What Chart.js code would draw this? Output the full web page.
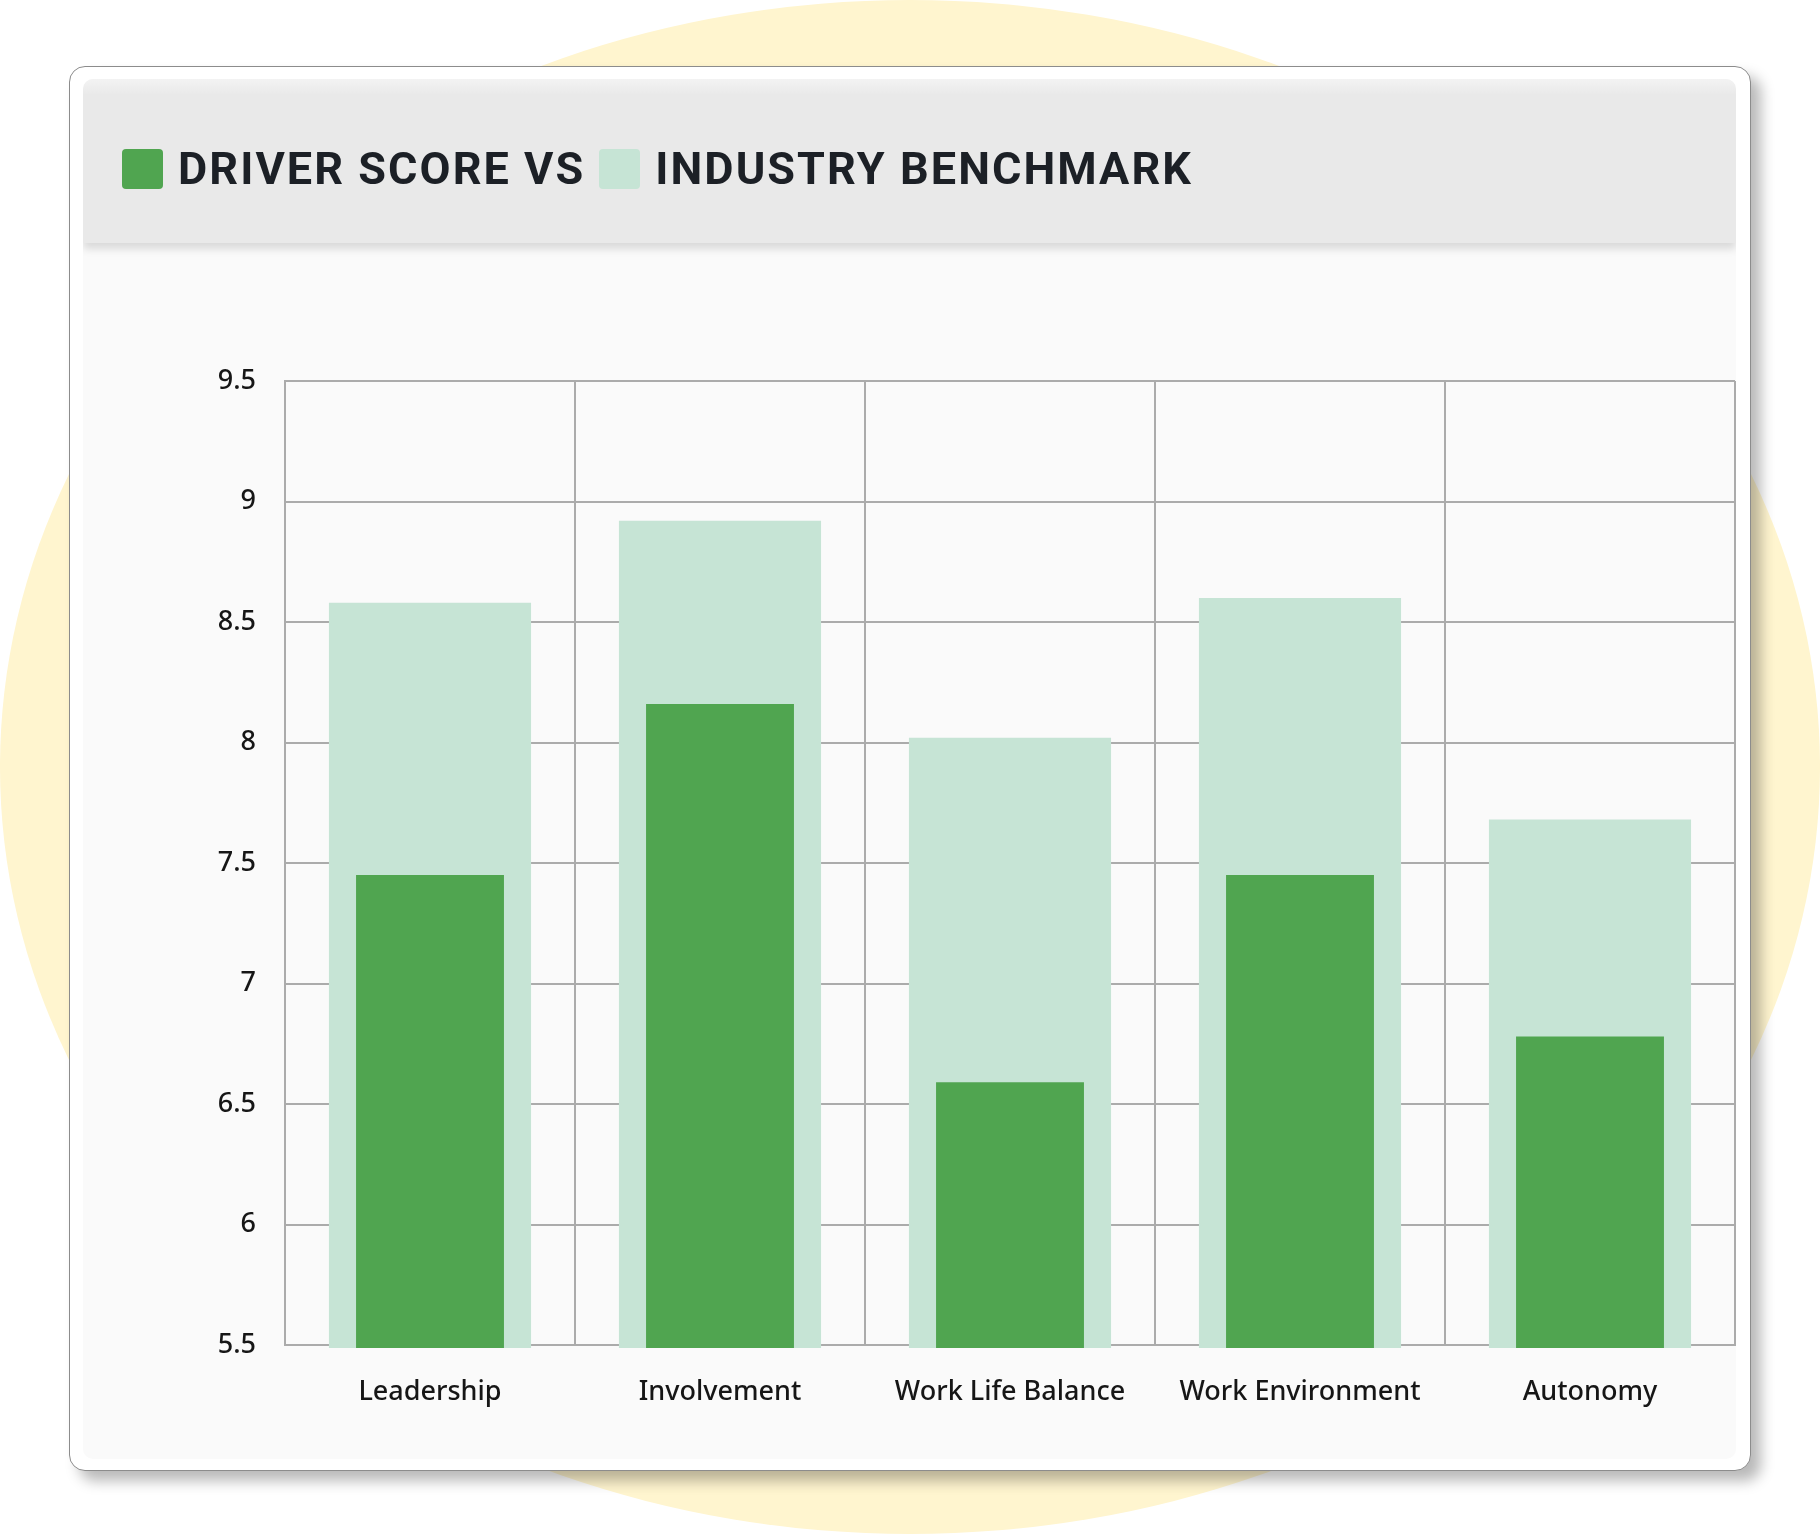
<!DOCTYPE html>
<html>
<head>
<meta charset="utf-8">
<script src="https://cdn.jsdelivr.net/npm/chart.js@4.4.0/dist/chart.umd.min.js"></script>
<style>
  html, body { margin: 0; padding: 0; background: #ffffff; }
  body { width: 1820px; height: 1534px; position: relative; overflow: hidden; }
  #blob { position: absolute; left: 0; top: 0; width: 1820px; height: 1534px; border-radius: 50%; background: #fff5cf; }
  #card { position: absolute; left: 69px; top: 66px; width: 1680px; height: 1403px; background: #ffffff;
          border: 1.5px solid #8c8c8c; border-radius: 16px; box-shadow: 10px 10px 14px rgba(0,0,0,0.28); }
  #panel { position: absolute; left: 13px; top: 12px; width: 1653px; height: 1380px; background: #fafafa; border-radius: 10px; overflow: hidden; }
  #header { position: absolute; left: 0; top: 0; width: 100%; height: 164px; background: linear-gradient(#f3f3f3 0px, #e9e9e9 16px, #e9e9e9 100%);
            box-shadow: 0 6px 8px rgba(0,0,0,0.13); z-index: 2; }
  #legend { position: absolute; left: 39px; top: 69px; height: 41px; display: flex; align-items: center;
            font-family: Roboto, "Noto Sans", sans-serif; font-weight: 700; font-size: 45px; letter-spacing: 2.05px; color: #1c2026; white-space: nowrap; }
  #legend .item { display: flex; align-items: center; margin-right: 14px; }
  #legend .box { width: 41px; height: 40px; border-radius: 4px; margin-right: 15px; }
  #chartWrap { position: absolute; left: 0; top: 167px; width: 1653px; height: 1212px; }
</style>
</head>
<body>
<div id="blob"></div>
<div id="card">
  <div id="panel">
    <div id="header"><div id="legend"></div></div>
    <div id="chartWrap"><canvas id="c" width="1653" height="1212"></canvas></div>
  </div>
</div>
<script>
const categories = ["Leadership", "Involvement", "Work Life Balance", "Work Environment", "Autonomy"];
const driverScore = [7.45, 8.16, 6.59, 7.45, 6.78];
const industryBenchmark = [8.58, 8.92, 8.02, 8.60, 7.68];
const yTicks = [5.5, 6, 6.5, 7, 7.5, 8, 8.5, 9, 9.5];
const seriesLabels = ["DRIVER SCORE VS", "INDUSTRY BENCHMARK"];
const seriesColors = ["#50a550", "#c6e4d5"];

const tickFont = { family: "'Noto Sans', sans-serif", size: 27, weight: '500' };

const chart = new Chart(document.getElementById('c'), {
  type: 'bar',
  data: {
    labels: categories,
    datasets: [
      { label: seriesLabels[0], data: driverScore, backgroundColor: seriesColors[0], barPercentage: 0.51, categoryPercentage: 1, grouped: false, clip: { left: 0, top: 0, right: 0, bottom: 3 } },
      { label: seriesLabels[1], data: industryBenchmark, backgroundColor: seriesColors[1], barPercentage: 0.697, categoryPercentage: 1, grouped: false, clip: { left: 0, top: 0, right: 0, bottom: 3 } }
    ]
  },
  options: {
    responsive: false,
    animation: false,
    devicePixelRatio: 1,
    layout: { padding: { top: 135, right: 1, left: 0, bottom: 0 } },
    plugins: { legend: { display: false }, tooltip: { enabled: false } },
    scales: {
      x: {
        grid: { color: '#ababab', lineWidth: 2, drawTicks: false, offset: true },
        border: { color: '#ababab', width: 2 },
        ticks: { font: tickFont, color: '#161616', padding: 31 },
        afterFit: s => { s.height = 113; }
      },
      y: {
        min: 5.5, max: 9.5,
        grid: { color: '#ababab', lineWidth: 2, drawTicks: false },
        border: { color: '#ababab', width: 2 },
        ticks: { font: tickFont, color: '#161616', padding: 29, callback: v => String(v) },
        afterBuildTicks: s => { s.ticks = yTicks.map(v => ({ value: v })); },
        afterFit: s => { s.width = 202; }
      }
    }
  }
});

// HTML legend built from dataset definitions
const legend = document.getElementById('legend');
chart.data.datasets.forEach(ds => {
  const item = document.createElement('div');
  item.className = 'item';
  const box = document.createElement('div');
  box.className = 'box';
  box.style.background = ds.backgroundColor;
  const txt = document.createElement('span');
  txt.textContent = ds.label;
  item.appendChild(box); item.appendChild(txt);
  legend.appendChild(item);
});
</script>
</body>
</html>
